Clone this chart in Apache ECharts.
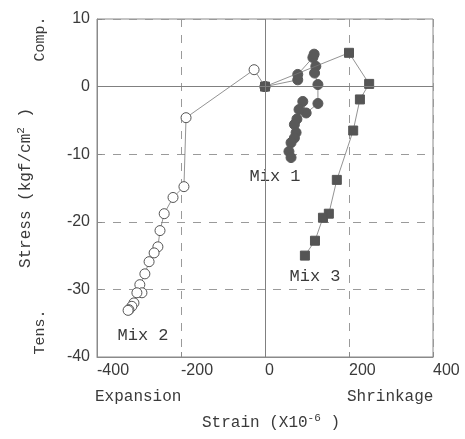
<!DOCTYPE html>
<html>
<head>
<meta charset="utf-8">
<script src="https://cdn.jsdelivr.net/npm/echarts@6/dist/echarts.min.js"></script>
<style>html,body{margin:0;padding:0;background:#fff}#c{width:465px;height:439px}</style>
</head>
<body>
<div id="c"></div>
<script>
// Strain (x10^-6), Stress (kgf/cm2)
const mix1 = [[0,0],[78,1.0],[78,1.8],[114,4.3],[117,4.8],[121,3.0],[118,2.0],[126,0.3],[126,-2.5],[98,-3.9],[90,-2.2],[81,-3.4],[76,-4.8],[70,-5.6],[74,-6.8],[70,-7.6],[62,-8.3],[57,-9.6],[62,-10.5]];
const mix2 = [[0,0],[-26,2.5],[-188,-4.6],[-193,-14.8],[-219,-16.4],[-240,-18.8],[-250,-21.3],[-255,-23.7],[-264,-24.6],[-276,-25.9],[-286,-27.7],[-298,-29.3],[-293,-30.5],[-305,-30.5],[-312,-32.0],[-317,-32.5],[-324,-33.0],[-326,-33.1]];
const mix3 = [[0,0],[200,5.0],[248,0.4],[226,-1.9],[210,-6.5],[171,-13.8],[152,-18.8],[138,-19.4],[119,-22.8],[95,-25.0]];
const xTicks = [-400, -200, 0, 200, 400];
const yTicks = [10, 0, -10, -20, -30, -40];
const seriesNames = ['Mix 1', 'Mix 2', 'Mix 3'];

const txt = '#3a3a3a';
const mono = '"Liberation Mono", "DejaVu Sans Mono", monospace';
const chart = echarts.init(document.getElementById('c'), null, {renderer: 'canvas'});
chart.setOption({
  backgroundColor: '#fff',
  animation: false,
  grid: {left: 97, top: 19, width: 336, height: 338, show: true, borderColor: '#8a8a8a', borderWidth: 1},
  xAxis: {
    type: 'value', min: xTicks[0], max: xTicks[xTicks.length - 1], interval: 200,
    axisLine: {show: true, onZero: false, lineStyle: {color: '#8a8a8a'}},
    axisTick: {show: true, inside: true, length: 5, lineStyle: {color: '#8a8a8a'}},
    axisLabel: {color: txt, fontSize: 16, fontFamily: '"Liberation Sans", Arial', align: 'left', margin: 6},
    splitLine: {show: true, lineStyle: {color: '#9a9a9a', type: [8, 8], width: 1}}
  },
  yAxis: {
    type: 'value', min: yTicks[yTicks.length - 1], max: yTicks[0], interval: 10,
    axisLine: {show: true, onZero: false, lineStyle: {color: '#8a8a8a'}},
    axisTick: {show: true, inside: true, length: 5, lineStyle: {color: '#8a8a8a'}},
    axisLabel: {color: txt, fontSize: 16, fontFamily: '"Liberation Sans", Arial', margin: 7},
    splitLine: {show: true, lineStyle: {color: '#9a9a9a', type: [8, 8], width: 1}},
    name: '{n|Stress (kgf/cm}{s|2}{n| )}', nameLocation: 'middle', nameGap: 62, nameRotate: 90,
    nameTextStyle: {rich: {n: {fontFamily: mono, fontSize: 16, color: txt}, s: {fontFamily: mono, fontSize: 11, color: txt, verticalAlign: 'top', padding: [0, 0, 8, 0]}}}
  },
  series: [
    {
      name: seriesNames[0], type: 'line', data: mix1, symbol: 'circle', symbolSize: 10,
      lineStyle: {color: '#777', width: 0.8}, itemStyle: {color: '#595959', borderColor: '#595959'}, z: 3,
      markLine: {silent: true, symbol: 'none', label: {show: false}, lineStyle: {color: '#808080', type: 'solid', width: 1},
        data: [{xAxis: 0}, {yAxis: 0}]}
    },
    {
      name: seriesNames[1], type: 'line', data: mix2, symbol: 'circle', symbolSize: 10,
      lineStyle: {color: '#777', width: 0.8}, itemStyle: {color: '#fff', borderColor: '#555', borderWidth: 1}, z: 2
    },
    {
      name: seriesNames[2], type: 'line', data: mix3, symbol: 'rect', symbolSize: 9,
      lineStyle: {color: '#777', width: 0.8}, itemStyle: {color: '#555', borderColor: '#555'}, z: 4
    }
  ],
  graphic: [
    {type: 'text', left: 95, top: 389, style: {text: 'Expansion', font: '16px ' + mono, fill: txt}},
    {type: 'text', left: 347, top: 389, style: {text: 'Shrinkage', font: '16px ' + mono, fill: txt}},
    {type: 'text', left: 202, top: 413, style: {rich: {n: {fontFamily: mono, fontSize: 16, fill: txt}, s: {fontFamily: mono, fontSize: 11, fill: txt, verticalAlign: 'top', padding: [0, 0, 8, 0]}}, text: '{n|Strain (X10}{s|-6}{n| )}'}},
    {type: 'text', x: 40, y: 39, rotation: Math.PI / 2, style: {text: 'Comp.', font: '15px ' + mono, fill: txt, align: 'center', verticalAlign: 'middle'}},
    {type: 'text', x: 40, y: 332, rotation: Math.PI / 2, style: {text: 'Tens.', font: '15px ' + mono, fill: txt, align: 'center', verticalAlign: 'middle'}},
    {type: 'text', x: 275, y: 176, style: {text: seriesNames[0], font: '17px ' + mono, fill: txt, align: 'center', verticalAlign: 'middle'}},
    {type: 'text', x: 143, y: 335, style: {text: seriesNames[1], font: '17px ' + mono, fill: txt, align: 'center', verticalAlign: 'middle'}},
    {type: 'text', x: 315, y: 276, style: {text: seriesNames[2], font: '17px ' + mono, fill: txt, align: 'center', verticalAlign: 'middle'}}
  ]
});
</script>
</body>
</html>
